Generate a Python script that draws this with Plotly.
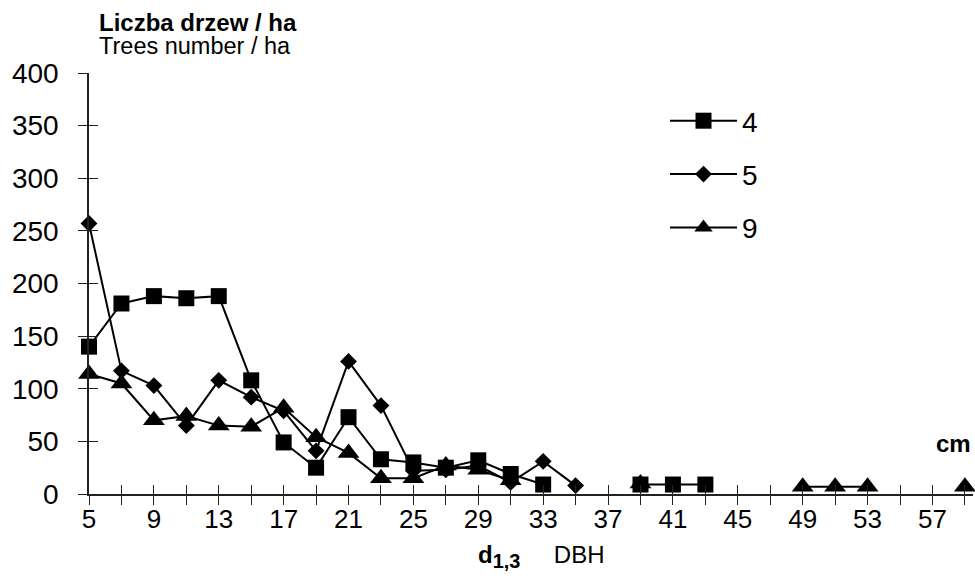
import plotly.graph_objects as go

# DBH classes (cm)
dbh = [5, 7, 9, 11, 13, 15, 17, 19, 21, 23, 25, 27, 29, 31, 33, 35, 37, 39, 41, 43,
       45, 47, 49, 51, 53, 55, 57, 59]

# Trees number / ha per series (None = no value)
s4 = [140, 181, 188, 186, 188, 108, 49, 25, 73, 33, 30, 25, 32, 19, 9, None, None, 9, 9, 9,
      None, None, None, None, None, None, None, None]
s5 = [257, 117, 103, 65, 108, 92, 79, 41, 126, 84, 22, 23, 27, 11, 31, 8, None, None, None, None,
      None, None, None, None, None, None, None, None]
s9 = [114, 105, 70, 74, 65, 64, 82, 54, 39, 15, 15, 27, 23, 13, None, None, None, 10, None, None,
      None, None, 7, 7, 7, None, None, 7]

names = ["4", "5", "9"]
symbols = ["square", "diamond", "triangle-up"]
sizes = [16, 13, 19]

y_ticks = [0, 50, 100, 150, 200, 250, 300, 350, 400]
x_label_ticks = [5, 9, 13, 17, 21, 25, 29, 33, 37, 41, 45, 49, 53, 57]

FONT = "Liberation Sans, Arial, sans-serif"

fig = go.Figure()
for i, (nm, ys) in enumerate(zip(names, [s4, s5, s9])):
    fig.add_trace(go.Scatter(
        x=dbh, y=ys, name=nm, mode="lines+markers",
        line=dict(color="black", width=2),
        marker=dict(symbol=symbols[i], size=sizes[i], color="black",
                    line=dict(width=0)),
        connectgaps=False, cliponaxis=False, legendgroup=nm,
    ))

# dummy trace for overlay axes (inside tick marks so ticks cross the axes)
fig.add_trace(go.Scatter(x=[None], y=[None], xaxis="x2", yaxis="y2",
                         showlegend=False, hoverinfo="skip"))

fig.update_layout(
    width=975, height=576,
    margin=dict(l=89, r=2, t=73, b=82),
    paper_bgcolor="white", plot_bgcolor="white",
    font=dict(family=FONT, color="black"),
    showlegend=True,
    legend=dict(
        x=(665 - 89) / 884, xanchor="left",
        y=(494 - 96) / 421, yanchor="top",
        font=dict(size=28, family=FONT),
        bgcolor="rgba(0,0,0,0)", tracegroupgap=14,
        itemwidth=67,
    ),
    xaxis=dict(
        range=[5, 59.5], showgrid=False, zeroline=False,
        showline=True, linecolor="#222", linewidth=1.5,
        tickmode="array", tickvals=x_label_ticks,
        ticks="outside", ticklen=9, tickwidth=1, tickcolor="#222",
        minor=dict(dtick=2, tick0=5, ticks="outside", ticklen=9, tickwidth=1, tickcolor="#222"),
        tickfont=dict(size=26, family=FONT), ticklabelstandoff=-8,
    ),
    yaxis=dict(
        range=[0, 400], showgrid=False, zeroline=False,
        showline=True, linecolor="#222", linewidth=1.5,
        tickmode="array", tickvals=y_ticks,
        ticks="outside", ticklen=9, tickwidth=1, tickcolor="#222",
        tickfont=dict(size=28, family=FONT), ticklabelstandoff=14,
    ),
    xaxis2=dict(
        range=[5, 59.5], overlaying="x", anchor="y", side="bottom",
        showgrid=False, zeroline=False, showline=False, showticklabels=False,
        tickmode="linear", tick0=5, dtick=2,
        ticks="inside", ticklen=9, tickwidth=1, tickcolor="#222",
    ),
    yaxis2=dict(
        range=[0, 400], overlaying="y", anchor="x", side="left",
        showgrid=False, zeroline=False, showline=False, showticklabels=False,
        tickmode="array", tickvals=y_ticks,
        ticks="inside", ticklen=9, tickwidth=1, tickcolor="#222",
    ),
    annotations=[
        dict(text="<b>Liczba drzew / ha</b>", xref="paper", yref="paper",
             x=(97 - 89) / 884, y=(494 - 22) / 421, xanchor="left", yanchor="middle",
             showarrow=False, font=dict(size=24, family=FONT)),
        dict(text="Trees number / ha", xref="paper", yref="paper",
             x=(97 - 89) / 884, y=(494 - 46) / 421, xanchor="left", yanchor="middle",
             showarrow=False, font=dict(size=23.5, family=FONT)),
        dict(text="<b>cm</b>", xref="paper", yref="paper",
             x=(973 - 89) / 884, y=(494 - 443) / 421, xanchor="right", yanchor="middle",
             showarrow=False, font=dict(size=24, family=FONT)),
        dict(text="<b>d<sub><span style='font-size:20px'>1,3</span></sub></b>\u00a0\u00a0\u00a0\u00a0\u00a0DBH",
             xref="paper", yref="paper",
             x=(476 - 89) / 884, y=(494 - 556) / 421, xanchor="left", yanchor="middle",
             showarrow=False, font=dict(size=24, family=FONT)),
    ],
)

fig.write_html("out.html")
